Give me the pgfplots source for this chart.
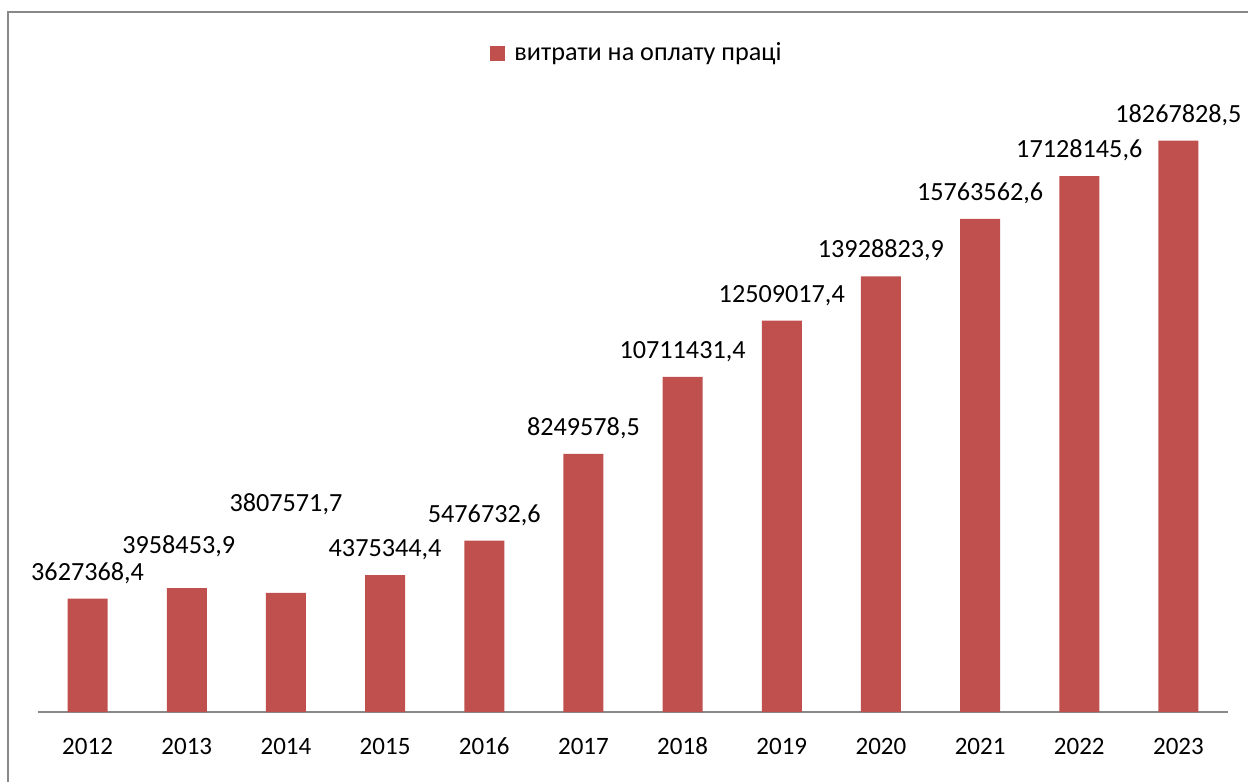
\documentclass[border=0pt]{standalone}
\usepackage{fontspec}
\setmainfont{Carlito}
\usepackage{pgfplots}
\usepackage{pgfplotstable}
\pgfplotsset{compat=1.18}
\definecolor{barred}{HTML}{C0504D}
\definecolor{framegray}{RGB}{137,137,137}
\pgfplotstableread{
x y dx dy label
0 3627368.4 0 9.25 3627368,4
1 3958453.9 -4 17.25 3958453,9
2 3807571.7 0 40.75 3807571,7
3 4375344.4 0 9.25 4375344,4
4 5476732.6 0 9.25 5476732,6
5 8249578.5 0 9.25 8249578,5
6 10711431.4 0 9.25 10711431,4
7 12509017.4 0 9.25 12509017,4
8 13928823.9 0 9.25 13928823,9
9 15763562.6 0 9.25 15763562,6
10 17128145.6 0 9.25 17128145,6
11 18267828.5 0 9.25 18267828,5
}\datatable

\begin{document}
\begin{tikzpicture}[font=\fontsize{12.5pt}{15pt}\selectfont]
\begin{axis}[
  at={(19pt,35pt)}, anchor=south west,
  scale only axis, width=595pt, height=312.8pt,
  xmin=-0.5, xmax=11.5, ymin=0, ymax=20000000,
  axis x line=bottom, axis y line=none,
  x axis line style={-, draw=framegray, line width=0.75pt},
  xtick={0,...,11},
  xticklabels={2012,2013,2014,2015,2016,2017,2018,2019,2020,2021,2022,2023},
  major tick length=0pt,
  xticklabel style={anchor=base, yshift=-21pt},
  ytick=\empty,
  ybar, bar width=20pt,
  legend style={at={(0.5,1)}, anchor=center, xshift=2.5pt, yshift=16.65pt,
    draw=none, fill=none, font=\fontsize{13.1pt}{15pt}\selectfont},
]
\addplot[fill=barred, draw=none,
  nodes near coords, point meta=explicit symbolic,
  nodes near coords align={anchor=base},
  visualization depends on={\thisrow{dx} \as \dx},
  visualization depends on={\thisrow{dy} \as \dy},
  nodes near coords style={xshift=\dx pt, yshift=\dy pt, text=black,
    font=\fontsize{13.1pt}{15pt}\selectfont},
  legend image code/.code={\fill[barred] (0pt,-3.75pt) rectangle (7.5pt,3.75pt); \path (10pt,0pt);}]
  table[x=x, y=y, meta=label] {\datatable};
\legend{витрати на оплату праці}
\end{axis}
\draw[framegray, line width=1pt] (4pt,0pt) -- (4pt,385pt) -- (624pt,385pt);
\pgfresetboundingbox
\useasboundingbox (0,0) rectangle (624pt,391pt);
\end{tikzpicture}
\end{document}
